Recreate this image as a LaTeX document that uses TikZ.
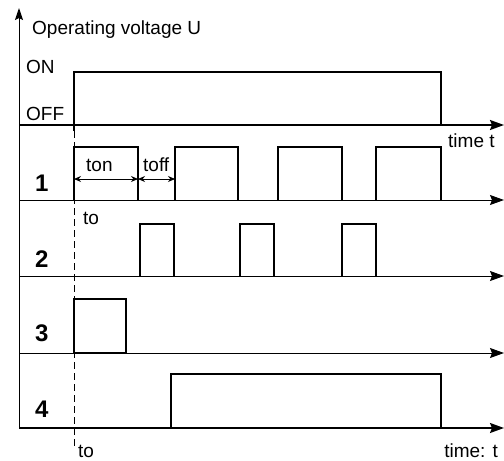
\documentclass[tikz,border=0pt]{standalone}
\usepackage{fontspec}
\setmainfont{Liberation Sans}
\usetikzlibrary{arrows.meta}

\begin{document}
\begin{tikzpicture}[x=1pt, y=-1pt, line join=miter, font=\fontsize{19}{22}\selectfont,
	axis/.style={line width=1pt, -{Stealth[length=14pt,width=10pt,inset=2pt]}},
	signal/.style={line width=1.3pt},
	lbl/.style={inner sep=0pt, anchor=base west},
	chan/.style={lbl, font=\fontsize{24}{28}\selectfont\bfseries},
	dim/.style={line width=0.9pt, {Stealth[length=7pt,width=6pt]}-{Stealth[length=7pt,width=6pt]}}]
	\useasboundingbox (0,0) rectangle (504,461);
	% Trục thời gian và trục điện áp
	\path (19,428) coordinate (O)
	(19,8) coordinate (Utop)
	(74,131) coordinate (tstart)
	(74,446) coordinate (tend);
	\draw[axis, -{Stealth[length=12pt,width=8pt,inset=2pt]}] (O) -- (Utop);
	\foreach \y/\w in {125/1.8, 200/1, 276/1, 353/1, 428/1.6}
	\draw[axis, line width=\w pt] (19,\y) -- (504,\y);
	% Đường nét đứt tại thời điểm to
	\draw[line width=0.9pt, dash pattern=on 7pt off 4pt] (tstart) -- (tend);
	% Điện áp hoạt động
	\draw[signal] (74,131) -- (74,72) -- (441,72) -- (441,125);
	% Kênh 1
	\foreach \a/\b in {74/138, 175/238, 278/342, 376/441}
	\draw[signal] (\a,200) -- (\a,147) -- (\b,147) -- (\b,200);
	% Kênh 2
	\foreach \a/\b in {140/174, 240/274, 342/376}
	\draw[signal] (\a,276) -- (\a,224) -- (\b,224) -- (\b,276);
	% Kênh 3 và kênh 4
	\draw[signal] (74,299) rectangle (126,353);
	\draw[signal] (171,428) -- (171,374) -- (441,374) -- (441,428);
	% Mũi tên ton, toff
	\path (74,179) coordinate (P1) (138,179) coordinate (P2) (175,179) coordinate (P3);
	\draw[dim] (P1) -- (P2);
	\draw[dim] (P2) -- (P3);
	% Nhãn
	\node[lbl] (ylab) at (32,34) {Operating voltage U};
	\node[lbl] (on) at (26,73) {ON};
	\node[lbl] (off) at (26,120) {OFF};
	\node[lbl] (time1) at (448,147) {time t};
	\node[lbl] (ton) at (86,171) {ton};
	\node[lbl] (toff) at (143,171) {toff};
	\node[lbl] (to1) at (83,224) {to};
	\node[lbl] (to2) at (78,457) {to};
	\node[lbl, anchor=base east] (time2) at (498,457) {time: t};
	\foreach \n/\y in {1/191, 2/267, 3/341, 4/417}
	\node[chan] (ch\n) at (35,\y) {\n};
\end{tikzpicture}
\end{document}
